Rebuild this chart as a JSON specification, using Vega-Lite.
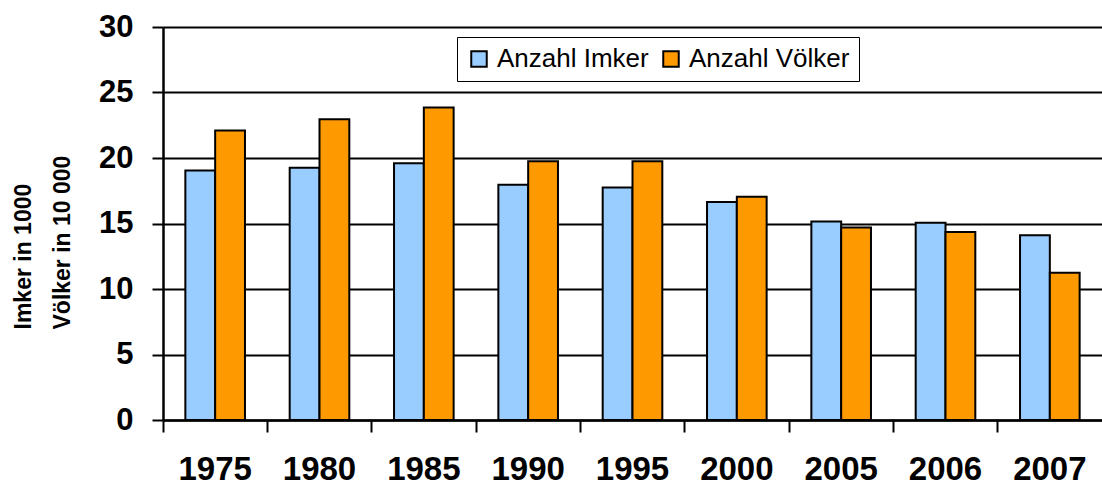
{
  "$schema": "https://vega.github.io/schema/vega-lite/v6.json",
  "width": 939,
  "height": 393,
  "autosize": {"type": "none"},
  "padding": {"left": 163, "top": 27, "right": 0, "bottom": 66},
  "background": "white",
  "config": {"view": {"stroke": null}, "font": "Liberation Sans"},
  "data": {
    "values": [
      {"Jahr": "1975", "Reihe": "Anzahl Imker", "Wert": 19.05},
      {"Jahr": "1975", "Reihe": "Anzahl Völker", "Wert": 22.1},
      {"Jahr": "1980", "Reihe": "Anzahl Imker", "Wert": 19.25},
      {"Jahr": "1980", "Reihe": "Anzahl Völker", "Wert": 22.95},
      {"Jahr": "1985", "Reihe": "Anzahl Imker", "Wert": 19.6},
      {"Jahr": "1985", "Reihe": "Anzahl Völker", "Wert": 23.85},
      {"Jahr": "1990", "Reihe": "Anzahl Imker", "Wert": 17.95},
      {"Jahr": "1990", "Reihe": "Anzahl Völker", "Wert": 19.75},
      {"Jahr": "1995", "Reihe": "Anzahl Imker", "Wert": 17.75},
      {"Jahr": "1995", "Reihe": "Anzahl Völker", "Wert": 19.75},
      {"Jahr": "2000", "Reihe": "Anzahl Imker", "Wert": 16.65},
      {"Jahr": "2000", "Reihe": "Anzahl Völker", "Wert": 17.05},
      {"Jahr": "2005", "Reihe": "Anzahl Imker", "Wert": 15.15},
      {"Jahr": "2005", "Reihe": "Anzahl Völker", "Wert": 14.7},
      {"Jahr": "2006", "Reihe": "Anzahl Imker", "Wert": 15.05},
      {"Jahr": "2006", "Reihe": "Anzahl Völker", "Wert": 14.35},
      {"Jahr": "2007", "Reihe": "Anzahl Imker", "Wert": 14.1},
      {"Jahr": "2007", "Reihe": "Anzahl Völker", "Wert": 11.25}
    ]
  },
  "mark": {"type": "bar", "stroke": "black", "strokeWidth": 2},
  "encoding": {
    "x": {
      "field": "Jahr",
      "type": "nominal",
      "scale": {"paddingInner": 0, "paddingOuter": 0},
      "axis": {
        "title": null,
        "labelAngle": 0,
        "labelFont": "Liberation Sans",
        "labelFontWeight": "bold",
        "labelFontSize": 33,
        "labelColor": "black",
        "labelPadding": 21,
        "bandPosition": 0,
        "tickSize": 12,
        "tickWidth": 2,
        "tickColor": "black",
        "domainColor": "black",
        "domainWidth": 2.5,
        "grid": false
      }
    },
    "xOffset": {
      "field": "Reihe",
      "type": "nominal",
      "scale": {"paddingOuter": 0.75, "paddingInner": 0}
    },
    "y": {
      "field": "Wert",
      "type": "quantitative",
      "scale": {"domain": [0, 30], "nice": false},
      "axis": {
        "values": [0, 5, 10, 15, 20, 25, 30],
        "title": ["Imker in 1000", "Völker in 10 000"],
        "titleFont": "Liberation Sans",
        "titleFontWeight": "bold",
        "titleFontSize": 23,
        "titleColor": "black",
        "titleLineHeight": 39,
        "titleX": -128,
        "titleY": 302,
        "titleAngle": -90,
        "titleAlign": "left",
        "titleBaseline": "bottom",
        "labelFont": "Liberation Sans",
        "labelFontWeight": "bold",
        "labelFontSize": 31,
        "labelColor": "black",
        "labelPadding": 19,
        "tickSize": 11,
        "tickWidth": 2,
        "tickColor": "black",
        "domainColor": "black",
        "domainWidth": 2.5,
        "grid": true,
        "gridColor": "black",
        "gridWidth": 2,
        "gridOpacity": 1
      }
    },
    "color": {
      "field": "Reihe",
      "type": "nominal",
      "scale": {"domain": ["Anzahl Imker", "Anzahl Völker"], "range": ["#99CCFF", "#FF9900"]},
      "legend": {
        "title": null,
        "orient": "none",
        "direction": "horizontal",
        "legendX": 294,
        "legendY": 10,
        "padding": 9,
        "strokeColor": "black",
        "fillColor": "white",
        "symbolType": "square",
        "symbolSize": 240,
        "symbolStrokeColor": "black",
        "symbolStrokeWidth": 2,
        "symbolOpacity": 1,
        "labelFont": "Liberation Sans",
        "labelFontSize": 26,
        "labelColor": "black",
        "labelOffset": 5,
        "columnPadding": 9,
        "labelLimit": 300
      }
    }
  }
}
